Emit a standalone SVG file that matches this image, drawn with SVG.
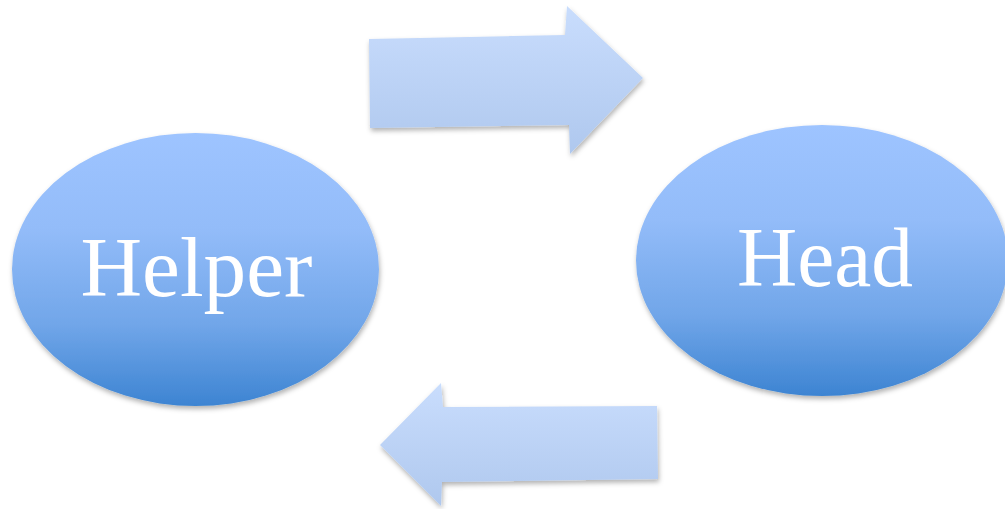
<svg xmlns="http://www.w3.org/2000/svg" width="1005" height="509" viewBox="0 0 1005 509">
<defs>
<linearGradient id="ellGrad" x1="0" y1="0" x2="0" y2="1">
<stop offset="0" stop-color="#9ec4ff"/>
<stop offset="0.35" stop-color="#93bcf9"/>
<stop offset="0.7" stop-color="#71a6e9"/>
<stop offset="1" stop-color="#3d84d2"/>
</linearGradient>
<linearGradient id="arrGrad" x1="0" y1="0" x2="0" y2="1">
<stop offset="0" stop-color="#c9ddfd"/>
<stop offset="1" stop-color="#afc8ee"/>
</linearGradient>
<filter id="shadow" x="-10%" y="-10%" width="125%" height="125%">
<feDropShadow dx="1" dy="3" stdDeviation="2.5" flood-color="#000" flood-opacity="0.3"/>
</filter>
</defs>
<style>
.node ellipse{fill:url(#ellGrad);filter:url(#shadow)}
.arrow{fill:url(#arrGrad);filter:url(#shadow)}
.label{font-family:"Liberation Serif","DejaVu Serif",serif;font-size:84px;fill:#ffffff;text-anchor:middle}
</style>
<g id="connectors">
<polygon class="arrow" points="369,39 565,35 567,6 643,78 570,154 569,125 370,128"/>
<polygon class="arrow" points="380,445 441,383 443,407 657,406 658,479 442,482 441,506"/>
</g>
<g id="helper" class="node">
<ellipse cx="195.5" cy="269.5" rx="183.5" ry="136.5"/>
<text class="label" x="196.5" y="296" textLength="232" lengthAdjust="spacingAndGlyphs">Helper</text>
</g>
<g id="head" class="node">
<ellipse cx="822" cy="260.5" rx="186" ry="135.5"/>
<text class="label" x="825" y="286" textLength="176" lengthAdjust="spacingAndGlyphs">Head</text>
</g>
</svg>
